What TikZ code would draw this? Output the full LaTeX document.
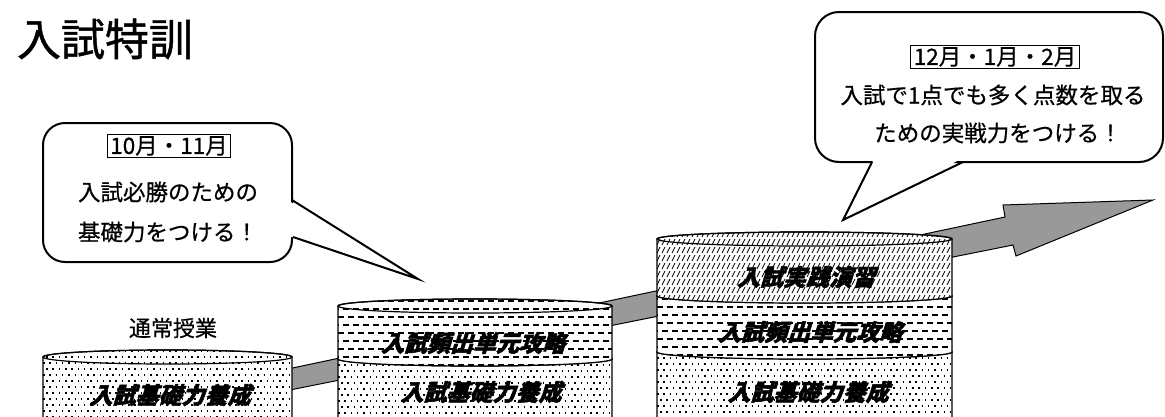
\documentclass[tikz,border=0pt]{standalone}
\usepackage{fontspec}
\newfontfamily\jp[FakeBold=0.6]{Noto Sans CJK JP}
\newfontfamily\jptitle[FakeBold=1]{Noto Sans CJK JP}
\newfontfamily\cylfont[FakeSlant=0.3,FakeBold=1.8]{Noto Sans CJK JP}
\tikzset{
  bubble/.style={line width=2pt, draw=black, fill=white},
  bubbleline/.style={line width=2pt, line join=miter},
  cylline/.style={line width=1.2pt},
  cyltext/.style={font=\cylfont\bfseries\fontsize{23}{23}\selectfont, inner sep=0pt},
  btext/.style={font=\jp\fontsize{22.5}{24}\selectfont, inner sep=0pt},
  monthbox/.style={draw, line width=0.8pt, inner xsep=3pt, inner ysep=2pt, font=\jp\fontsize{22.5}{24}\selectfont},
  arrowband/.style={fill=black!40, draw=black, line width=1pt, line join=miter},
}
% patterns: #1 x0, #2 x1, #3 y0
\newcommand\patdots[3]{\foreach \k in {0,...,13}{%
  \pgfmathsetmacro\ph{mod(\k,2)*3.15}%
  \draw[line width=1.5pt, dash pattern=on 1.5pt off 4.8pt, dash phase=\ph pt] (#1,#3+2+\k*6) -- (#2,#3+2+\k*6);}}
\newcommand\patdash[3]{\foreach \k in {0,...,10}{%
  \pgfmathsetmacro\ph{mod(\k,2)*5}%
  \draw[line width=1.4pt, dash pattern=on 6pt off 4pt, dash phase=\ph pt] (#1,#3+3+\k*8) -- (#2,#3+3+\k*8);}}
\newcommand\pathatch[3]{\foreach \k in {0,...,9}{\foreach \j in {0,...,62}{\draw[line width=0.8pt] (#1+\j*5,#3+\k*8+6) -- (#1+\j*5+3,#3+\k*8);}}}
% layer: cx, rx, ytop, ybot, pattern
\newcommand\cyllayer[5]{%
  \pgfmathsetmacro\lx{#1-#2}\pgfmathsetmacro\rx{#1+#2}\pgfmathsetmacro\ty{#3-8}%
  \path[save path=\lpath] (\lx,#3) -- (\lx,#4) arc[start angle=180,end angle=0,x radius=#2,y radius=7] -- (\rx,#3) arc[start angle=0,end angle=-180,x radius=#2,y radius=7] -- cycle;
  \fill[white, use path=\lpath];
  \begin{scope}\clip[use path=\lpath];
    \csname pat#5\endcsname{\lx}{\rx}{\ty}
  \end{scope}
  \draw[cylline, use path=\lpath];
  \draw[cylline] (#1,#3) ellipse[x radius=#2, y radius=7];
}
\begin{document}
\begin{tikzpicture}[x=1pt,y=-1pt]
\useasboundingbox (0,0) rectangle (1165,416);
\clip (0,0) rectangle (1165,416);

% title
\node[font=\jptitle\fontsize{44}{44}\selectfont, inner sep=0pt] (title) at (105,39) {入試特訓};

% big gray arrow behind the cylinders
\path[arrowband] (250,377) -- (1005,217) -- (1003,205) -- (1153,200) -- (1016,256) -- (1013,245) -- (250,398) -- cycle;

% cylinder 1
\cyllayer{167.5}{124.5}{357}{430}{dots}
\node[cyltext] (c1a) at (170,395) {入試基礎力養成};
\node[font=\jp\fontsize{22}{22}\selectfont, inner sep=0pt] (c1lab) at (173,328) {通常授業};

% cylinder 2
\cyllayer{475}{137}{359}{430}{dots}
\cyllayer{475}{137}{306}{359}{dash}
\node[cyltext] (c2a) at (481,392) {入試基礎力養成};
\node[cyltext] (c2b) at (473,343) {入試頻出単元攻略};

% cylinder 3
\cyllayer{804.5}{147.5}{352}{430}{dots}
\cyllayer{804.5}{147.5}{296}{352}{dash}
\cyllayer{804.5}{147.5}{239}{296}{hatch}
\node[cyltext] (c3a) at (808,392) {入試基礎力養成};
\node[cyltext] (c3b) at (810,332) {入試頻出単元攻略};
\node[cyltext] (c3c) at (806,277) {入試実践演習};

% left bubble
\draw[bubble, rounded corners=22pt] (43,123) rectangle (292,262);
\fill[white] (289,201) -- (418,279) -- (289,236) -- cycle;
\draw[bubbleline] (292,200) -- (418,279) -- (293,237);
\node[monthbox] (m1) at (169,146) {10月・11月};
\node[btext] (l1a) at (168,192) {入試必勝のための};
\node[btext] (l1b) at (168,232) {基礎力をつける！};

% right bubble
\draw[bubble, rounded corners=24pt] (815,12) rectangle (1163,162);
\fill[white] (874,159) -- (843,220) -- (961,159) -- cycle;
\draw[bubbleline] (872,162) -- (843,220) -- (963,162);
\node[monthbox] (m2) at (995,57) {12月・1月・2月};
\node[btext] (r1a) at (993,95) {入試で1点でも多く点数を取る};
\node[btext] (r1b) at (998,133) {ための実戦力をつける！};
\end{tikzpicture}
\end{document}
